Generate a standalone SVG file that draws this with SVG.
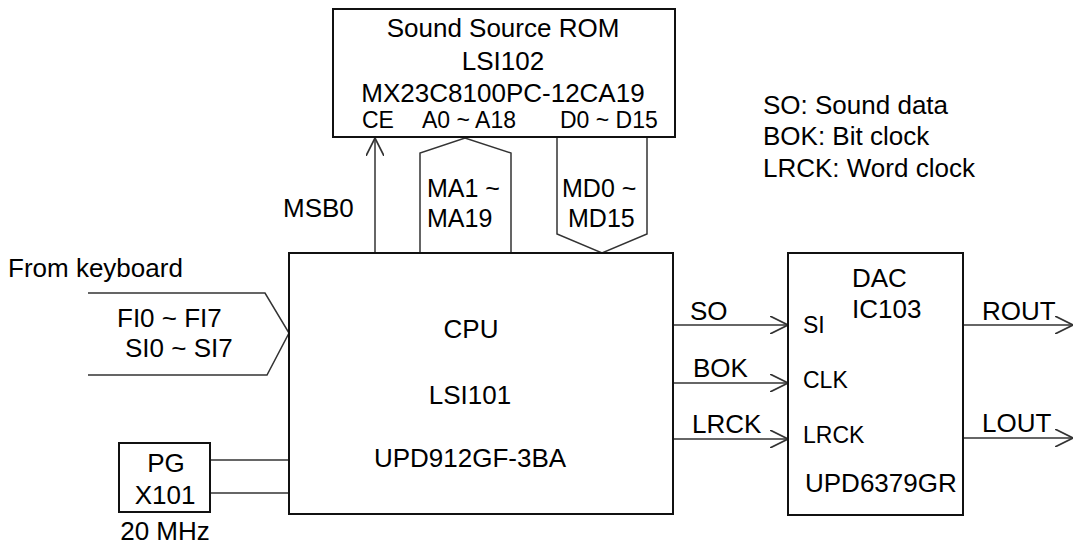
<svg xmlns="http://www.w3.org/2000/svg" width="1075" height="548" viewBox="0 0 1075 548">
<defs>
<style>
text{font-family:"Liberation Sans",Arial,sans-serif;font-size:26px;fill:#000}
.s{font-size:23px}
.b{font-size:25px}
.box{fill:#fff;stroke:#111;stroke-width:2}
.ln{fill:none;stroke:#333;stroke-width:1.5}
.m{text-anchor:middle}
</style>
<marker id="ah" markerUnits="userSpaceOnUse" markerWidth="18" markerHeight="18" viewBox="0 0 16 16" refX="16" refY="8" orient="auto">
<path d="M0,0 L16,8 L0,16" fill="none" stroke="#333" stroke-width="1.5"/>
</marker>
</defs>
<rect width="1075" height="548" fill="#fff"/>
<g id="connectors">
<line class="ln" x1="375" y1="253" x2="375" y2="138" marker-end="url(#ah)"/>
<polyline class="ln" points="420,253 420,153 465,138 511,153 511,253"/>
<polyline class="ln" points="557,138 557,234 602,253 647,234 647,138"/>
<polyline class="ln" points="88,293 265,293 289,333 267,375 88,375"/>
<line class="ln" x1="211" y1="460" x2="289" y2="460"/>
<line class="ln" x1="211" y1="493" x2="289" y2="493"/>
<line class="ln" x1="673" y1="325" x2="788" y2="325" marker-end="url(#ah)"/>
<line class="ln" x1="673" y1="383" x2="788" y2="383" marker-end="url(#ah)"/>
<line class="ln" x1="673" y1="439" x2="788" y2="439" marker-end="url(#ah)"/>
<line class="ln" x1="963" y1="325" x2="1073" y2="325" marker-end="url(#ah)"/>
<line class="ln" x1="963" y1="438" x2="1073" y2="438" marker-end="url(#ah)"/>
<text x="283" y="217">MSB0</text>
<text class="b" x="427" y="197">MA1 ~</text>
<text class="b" x="427" y="227">MA19</text>
<text class="b" x="562" y="197">MD0 ~</text>
<text class="b" x="568" y="227">MD15</text>
<text x="8" y="277">From keyboard</text>
<text x="117" y="327">FI0 ~ FI7</text>
<text x="125" y="357">SI0 ~ SI7</text>
<text x="690" y="320">SO</text>
<text x="693" y="377">BOK</text>
<text x="692" y="433">LRCK</text>
<text x="982" y="320">ROUT</text>
<text x="982" y="432">LOUT</text>
</g>
<g id="rom">
<rect class="box" x="333" y="9" width="342" height="128"/>
<text class="m" x="503" y="37">Sound Source ROM</text>
<text class="m" x="503" y="70">LSI102</text>
<text class="m" x="503" y="102">MX23C8100PC-12CA19</text>
<text class="s" x="362" y="128">CE</text>
<text class="s" x="422" y="128">A0 ~ A18</text>
<text class="s" x="560" y="128">D0 ~ D15</text>
</g>
<g id="cpu">
<rect class="box" x="289" y="253" width="384" height="261"/>
<text class="m" x="471" y="338">CPU</text>
<text class="m" x="470" y="404">LSI101</text>
<text class="m" x="470" y="467">UPD912GF-3BA</text>
</g>
<g id="pg">
<rect class="box" x="119" y="443" width="91" height="69"/>
<text class="m" x="166" y="472">PG</text>
<text class="m" x="165" y="504">X101</text>
<text class="m" x="165" y="540">20 MHz</text>
</g>
<g id="dac">
<rect class="box" x="788" y="253" width="175" height="262"/>
<text x="852" y="287">DAC</text>
<text x="852" y="318">IC103</text>
<text class="s" x="803" y="333">SI</text>
<text class="s" x="803" y="388">CLK</text>
<text class="s" x="803" y="443">LRCK</text>
<text x="805" y="492">UPD6379GR</text>
</g>
<g id="legend">
<text x="763" y="114">SO: Sound data</text>
<text x="763" y="145">BOK: Bit clock</text>
<text x="763" y="177">LRCK: Word clock</text>
</g>
</svg>
